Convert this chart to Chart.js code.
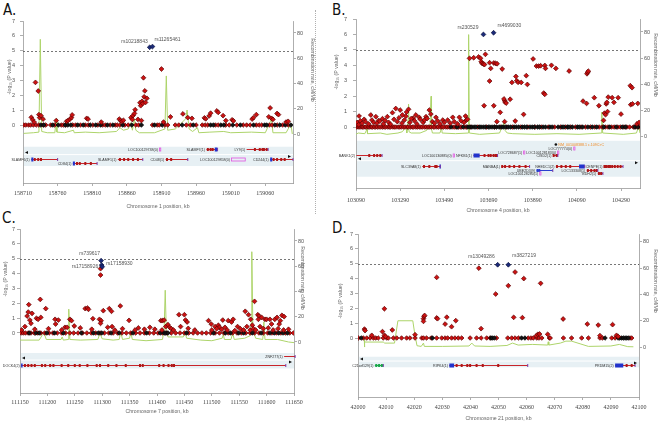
<!DOCTYPE html>
<html>
<head>
<meta charset="utf-8">
<script src="https://cdn.jsdelivr.net/npm/chart.js@4.4.1/dist/chart.umd.min.js"></script>
<style>
  body { margin: 0; background: #fff; }
  #page { position: relative; width: 661px; height: 425px; overflow: hidden; }
  canvas { position: absolute; }
  .tag { position: absolute; font: 15px "DejaVu Sans Condensed", sans-serif; color: #111; line-height: 1; }
  #sep { position: absolute; left: 315px; top: 10px; height: 204px; border-left: 1px dotted #b0b0b0; }
</style>
</head>
<body>
<div id="page">
  <div class="tag" style="left:3px;top:3px">A.</div>
  <div class="tag" style="left:332px;top:3px">B.</div>
  <div class="tag" style="left:2px;top:211px">C.</div>
  <div class="tag" style="left:332px;top:221px">D.</div>
  <div id="sep"></div>
  <canvas id="cA" width="315" height="212" style="left:0;top:0"></canvas>
  <canvas id="cB" width="331" height="216" style="left:330px;top:0"></canvas>
  <canvas id="cC" width="330" height="213" style="left:0;top:212px"></canvas>
  <canvas id="cD" width="331" height="213" style="left:330px;top:212px"></canvas>
</div>
<script>
// ---------- panel A : chromosome 1 ----------
const ticksA = [158710, 158760, 158810, 158860, 158910, 158960, 159010, 159060];
const topA = [["rs10218843", 158893, 5.23], ["rs11265461", 158897, 5.28]];
const redA = [
  [158722,0.52],[158724,0.35],[158726,0.2],[158728,2.87],[158732,2.29],[158733,0.7],[158734,0.5],[158736,0.63],[158739,0.4],
  [158758,0.3],[158773,0.25],[158775,0.3],[158778,0.4],[158780,0.5],[158781,0.68],[158802,0.45],[158804,0.4],[158823,0.2],
  [158849,0.4],[158851,0.3],[158853,0.25],[158855,0.32],[158866,0.5],[158868,0.37],[158869,0.64],[158871,0.78],[158872,1.03],
  [158876,0.38],[158879,1.5],[158880,1.3],[158881,0.3],[158882,1.6],[158883,1.45],[158884,3.18],[158885,1.9],[158886,2.3],
  [158887,1.52],[158889,1.8],[158910,3.77],[158913,0.2],[158923,0.55],[158941,0.75],[158948,0.5],[158954,0.45],[158972,0.48],
  [158974,0.42],[158979,0.62],[158981,0.8],[158990,0.95],[158992,0.85],[158999,0.63],[159003,0.3],[159012,0.35],[159014,0.28],
  [159041,0.4],[159043,0.5],[159047,0.7],[159065,0.55],[159067,1.15],[159069,0.45],[159071,0.38],[159077,0.78],[159079,0.7],
  [159090,0.2],[159093,0.25]
];
const zeroRedA = [158711,158714,158718,158721,158725,158729,158733,158739,158743,158750,158756,158765,158768,158772,158782,
  158786,158793,158800,158804,158811,158818,158825,158829,158836,158843,158846,158850,158857,158862,158873,158877,158897,
  158904,158907,158915,158919,158930,158935,158946,158952,158960,158969,158973,158977,158988,158992,159003,159008,159019,
  159028,159033,159038,159047,159051,159055,159066,159070,159077,159085,159093];
const zeroBlackA = [158736,158740,158753,158761,158771,158775,158779,158789,158797,158807,158815,158822,158832,158840,158854,
  158867,158881,158900,158911,158940,158956,158981,158985,158996,159000,159013,159024,159043,159059,159062,159074,159081,
  159089,159097];
const recombA = [[158711,0.5],[158725,1],[158733,1.5],[158735,75],[158737,2],[158745,1],[158756,1],[158758,12],[158759,1.5],
  [158770,1],[158783,3],[158784,1],[158800,1.5],[158820,1],[158845,2],[158850,5],[158855,3],[158862,4],[158866,9],[158868,3],
  [158871,12],[158873,3],[158878,1],[158900,1],[158915,4],[158917,46],[158919,3],[158930,4],[158945,12],[158947,19],[158950,4],
  [158955,2],[158962,5],[158964,1],[158980,1.5],[159000,2],[159010,1],[159040,1.5],[159060,1],[159069,12],[159071,1],
  [159090,1],[159097,8],[159099,0]];
const genesA = [
  {name:"LOC100129738(0)", start:158907, end:158909, lane:0, kind:"nc"},
  {name:"SLAMF7(1)", start:158975, end:158991, lane:0, exons:[158977,158981,158984], utr:[158987,158991]},
  {name:"LY9(1)", start:159033, end:159064, lane:0, exons:[159045,159052,159056,159058,159062]},
  {name:"SLAMF6(1)", start:158722, end:158760, lane:1, exons:[158727,158732,158736], utr:[158722,158725]},
  {name:"SLAMF1(1)", start:158847, end:158883, lane:1, exons:[158850,158856,158862,158869,158876]},
  {name:"CD48(1)", start:158916, end:158948, lane:1, exons:[158918,158924]},
  {name:"LOC100129858(0)", start:159011, end:159031, lane:1, kind:"nc"},
  {name:"CD244(1)", start:159067, end:159100, lane:1, exons:[159072,159077,159083,159088], utr:[159067,159070]},
  {name:"CD84(1)", start:158782, end:158817, lane:2, exons:[158788,158792,158800,158808], utr:[158782,158785]}
];

// ---------- panel B : chromosome 4 ----------
const ticksB = [103090, 103290, 103490, 103690, 103890, 104090, 104290];
const topB = [["rs230529", 103667, 6.0], ["rs4699030", 103713, 6.11]];
const redB = [
  [103604,4.45],[103623,4.49],[103645,4.54],[103654,4.45],[103657,4.23],[103661,4.12],[103667,4.08],[103672,4.05],[103676,4.71],
  [103695,4.17],[103700,3.8],[103695,2.98],[103714,4.15],[103722,4.12],[103729,4.1],[103752,3.76],[103670,1.38],[103714,1.38],
  [103743,0.95],[103728,0.35],[103763,0.35],[103763,1.7],[103760,1.82],[103766,1.6],[103770,1.55],[103788,1.8],[103814,3.28],
  [103818,3.0],[103824,2.9],[103796,2.89],[103838,2.89],[103861,3.33],[103866,2.76],[103811,0.39],[103849,0.82],[103892,4.41],
  [103907,3.95],[103917,3.95],[103926,3.97],[103945,3.99],[103948,3.8],[103940,2.2],[103945,2.12],[103975,4.0],[103995,3.8],
  [104055,3.63],[104136,3.45],[104139,3.55],[104142,3.62],[104118,1.68],[104134,1.53],[104169,1.9],[104190,1.38],[104211,0.43],
  [104223,1.5],[104226,1.6],[104215,0.9],[104220,0.8],[104229,1.0],[104232,1.94],[104250,1.9],[104258,1.6],[104277,1.9],
  [104290,0.84],[104332,2.68],[104340,2.55],[104334,1.45],[104342,1.5],[104366,1.53],
  [103104,0.71],[103127,0.5],[103157,0.78],[103180,0.67],[103192,0.42],[103210,0.54],[103232,0.67],[103255,0.93],[103270,1.2],
  [103290,1.1],[103300,0.78],[103319,0.97],[103328,1.15],[103349,0.57],[103361,0.78],[103376,0.63],[103407,0.67],[103422,1.1],
  [103429,0.84],[103452,0.63],[103483,0.45],[103528,0.63],[103558,0.63],[103586,0.71],[103589,0.45],
  [103096,0.3],[103102,0.15],[103110,0.4],[103118,0.25],[103133,0.35],[103147,0.2],[103162,0.45],[103170,0.3],[103185,0.25],
  [103198,0.38],[103214,0.2],[103222,0.42],[103238,0.3],[103246,0.18],[103262,0.5],[103277,0.35],[103285,0.6],[103298,0.25],
  [103309,0.45],[103316,0.7],[103334,0.3],[103340,0.55],[103355,0.4],[103366,0.2],[103381,0.5],[103394,0.3],[103400,0.45],
  [103412,0.55],[103436,0.35],[103445,0.25],[103460,0.4],[103471,0.2],[103490,0.3],[103505,0.45],[103517,0.25],[103535,0.35],
  [103550,0.2],[103566,0.4],[103579,0.3],[103595,0.5],[104362,0.2],[104372,0.3]
];
const zeroRedB = [103093,103100,103107,103112,103119,103125,103132,103138,103146,103152,103159,103165,103173,103180,103186,
  103195,103202,103211,103218,103225,103234,103241,103248,103257,103264,103271,103281,103288,103295,103305,103312,103321,
  103327,103337,103344,103351,103361,103368,103377,103384,103391,103401,103408,103417,103424,103431,103441,103447,103457,
  103463,103473,103480,103487,103497,103504,103513,103529,103537,103544,103553,103561,103568,103583,103591,103610,103641,
  103681,103719,103744,103773,103799,103836,103869,103901,103929,103961,103989,104016,104039,104063,104084,104109,104129,
  104151,104171,104191,104204,104219,104231,104247,104259,104275,104287,104303,104317,104329,104345,104357,104371];
const zeroBlackB = [103520,103548,103575,103596,103605,103615,103625,103633,103648,103656,103665,103675,103688,103697,103706,
  103716,103727,103738,103750,103758,103768,103780,103790,103806,103815,103826,103843,103852,103862,103878,103888,103897,
  103912,103921,103937,103948,103968,103978,104005,104023,104031,104048,104055,104070,104093,104101,104116,104140,104160,
  104180,104212,104238,104268,104296,104310,104352,104366];
const recombB = [[103090,2],[103100,3],[103130,2.5],[103140,6],[103142,2.5],[103200,3],[103230,2],[103280,3],[103300,4],
  [103318,8],[103320,3],[103326,14],[103328,25],[103330,4],[103340,3],[103380,3],[103410,5],[103425,8],[103430,31],[103432,6],
  [103436,3],[103470,3],[103478,7],[103480,3],[103540,2.5],[103598,3],[103600,78],[103603,3],[103650,2],[103740,3],[103755,9],
  [103760,11],[103765,5],[103775,3],[103800,2.5],[103900,2],[104000,2.5],[104100,2],[104200,3],[104203,19],[104207,3],
  [104300,2],[104360,3],[104370,8],[104376,3]];
const genesB = [
  {name:"NM_001008388.1 c.109C>C", start:103995, end:103995, lane:0, kind:"snp"},
  {name:"LOC777774(0)", start:104076, end:104078, lane:1, kind:"nc"},
  {name:"LOC728687(1)", start:103849, end:103851, lane:2, kind:"nc"},
  {name:"LOC100128183(0)", start:104003, end:104005, lane:2, kind:"nc"},
  {name:"CISD2(1)", start:103982, end:104004, lane:3, exons:[103985,103999]},
  {name:"BANK1(2)", start:103092, end:103208, lane:3, exons:[103150,103172,103186,103200]},
  {name:"LOC100130885(0)", start:103530, end:103532, lane:3, kind:"nc"},
  {name:"NFKB1(1)", start:103622, end:103731, lane:3, exons:[103672,103690,103700,103713,103722,103728], utr:[103622,103650]},
  {name:"SLC39A8(1)", start:103390, end:103472, lane:4, exons:[103398,103422,103449,103455], utr:[103468,103472]},
  {name:"MANBA(1)", start:103749, end:103876, lane:4, exons:[103752,103765,103785,103806,103830,103858]},
  {name:"NHEDC1(2)", start:103995, end:104126, lane:4, exons:[104000,104020,104040,104060], utr:[104100,104126]},
  {name:"CENPE(1)", start:104213, end:104299, lane:4, exons:[104215,104222,104232,104240,104250,104262,104275,104288]},
  {name:"UBE2D3(9)", start:103908, end:103981, lane:5, exons:[103912,103920], color:"#2a3fd0"},
  {name:"LOC133308(1)", start:104135, end:104185, lane:5, exons:[104140,104155,104170,104180]},
  {name:"LOC100128280(1)", start:103922, end:103924, lane:6, kind:"nc"},
  {name:"BDH2(1)", start:104185, end:104208, lane:6, exons:[104190,104200]}
];

// ---------- panel C : chromosome 7 ----------
const ticksC = [111150, 111200, 111250, 111300, 111350, 111400, 111450, 111500, 111550, 111600, 111650];
const topC = [["rs739617", 111298, 4.87], ["rs17158930", 111299, 4.57], ["rs17158926", 111300, 4.46]];
const redC = [
  [111297,4.33],[111297,3.9],[111166,1.91],[111163,1.14],[111165,1.41],[111172,1.32],[111168,0.87],[111170,0.65],[111159,0.43],
  [111180,0.99],[111183,0.92],[111188,1.05],[111187,2.26],[111197,1.64],[111214,0.92],[111220,0.87],[111215,0.6],[111232,0.38],
  [111236,0.38],[111241,0.92],[111244,0.83],[111249,0.47],[111260,0.34],[111269,1.64],[111273,1.68],[111275,1.59],[111283,0.96],
  [111295,0.92],[111298,0.83],[111297,0.65],[111302,1.5],[111313,1.64],[111317,1.46],[111310,0.38],[111318,0.43],[111333,1.82],
  [111337,0.29],[111349,0.85],[111366,0.34],[111377,0.25],[111387,0.38],[111407,0.83],[111410,0.83],[111413,0.87],[111416,0.43],
  [111420,0.56],[111423,0.38],[111426,0.29],[111440,1.23],[111450,1.23],[111452,0.87],[111455,0.74],[111443,0.43],[111457,0.31],
  [111494,0.83],[111499,0.6],[111506,0.43],[111512,0.52],[111520,0.87],[111530,0.83],[111536,0.74],[111539,0.92],[111514,0.38],
  [111524,0.38],[111547,0.43],[111561,1.46],[111567,1.23],[111571,0.92],[111578,2.13],[111584,1.23],[111586,1.14],[111585,0.92],
  [111591,1.05],[111597,0.92],[111600,0.92],[111606,0.92],[111609,0.6],[111615,0.92],[111619,1.05],[111625,0.83],[111628,1.19],
  [111632,1.1],[111623,0.6],[111574,0.52],
  [111500,0.2],[111509,0.29],[111518,0.25],[111528,0.2],[111542,0.16],[111552,0.29],[111558,0.2],[111564,0.43],[111570,0.2],
  [111576,0.29],[111580,0.2],[111588,0.43],[111594,0.29],[111603,0.34],[111612,0.2],[111621,0.29],[111631,0.2],[111640,0.25],
  [111153,0.2],[111177,0.25],[111202,0.29],[111226,0.2],[111281,0.25],[111323,0.2],[111360,0.2],[111396,0.25],[111409,0.2],
  [111430,0.2],[111469,0.2]
];
const zeroRedC = [111152,111156,111160,111165,111170,111176,111182,111188,111195,111203,111210,111218,111226,111233,111241,
  111248,111256,111264,111272,111280,111288,111296,111304,111312,111320,111328,111336,111344,111352,111361,111369,111377,
  111386,111394,111402,111410,111418,111426,111434,111442,111450,111458,111466,111474,111482,111490,111498,111506,111514,
  111522,111530,111538,111546,111554,111562,111570,111578,111586,111594,111602,111610,111618,111626,111634,111642,111649];
const zeroBlackC = [111167,111179,111185,111199,111213,111229,111262,111284,111293,111299,111316,111331,111356,111381,111406,
  111413,111416,111420,111454,111503,111525,111534,111549,111558,111574,111590,111606,111614,111622,111630,111638];
const recombC = [[111150,1.5],[111185,1.5],[111190,5],[111194,7],[111198,2],[111225,2],[111227,4],[111229,1.5],[111238,2],
  [111239,26],[111241,2],[111260,1.5],[111292,2],[111296,7],[111300,2.5],[111320,1.5],[111331,2],[111334,8],[111337,2],
  [111350,3],[111352,8],[111355,2],[111380,1],[111410,2],[111413,10],[111415,41],[111417,8],[111420,4],[111448,4],[111451,8],
  [111454,3],[111480,1.5],[111500,1],[111519,3],[111521,6],[111523,2],[111535,2],[111538,7],[111541,2],[111560,3],[111570,5],
  [111572,15],[111573,71.5],[111575,10],[111580,3],[111593,2],[111595,16],[111597,2],[111620,2],[111640,0],[111650,-0.5]];
const genesC = [
  {name:"ZNF277(1)", start:111632, end:111652, lane:0, exons:[]},
  {name:"DOCK4(2)", start:111152, end:111635, lane:1, utr:[111152,111154], exons:[111159,111165,111171,111177,111190,111196,
    111205,111211,111226,111238,111250,111259,111273,111290,111296,111311,111326,111343,111369,111374,111404,111412,111421,
    111427,111431]}
];

// ---------- panel D : chromosome 21 ----------
const ticksD = [42000, 42010, 42020, 42030, 42040, 42050, 42060, 42070, 42080, 42090, 42100];
const topD = [["rs13049286", 42049.7, 4.93], ["rs3827219", 42053.5, 4.93]];
const redD = [
  [42002.3,0.6],[42002.5,0.5],[42004.9,0.18],[42008.7,0.43],[42009.4,1.97],[42009.4,0.18],[42009.8,0.1],[42012.2,0.54],
  [42020.3,0.22],[42023.3,1.3],[42023.5,1.45],[42023.7,1.52],[42023.3,1.12],[42028,4.08],[42028,1.35],[42028.3,1.3],[42031,0.94],
  [42031.6,1.4],[42033.3,0.76],[42034.8,1.17],[42043,4.7],[42043.8,0.63],[42049,2.96],[42053.5,3.52],[42055.9,4.44],[42059,4.0],
  [42055.4,1.39],[42058.5,1.37],[42065,3.68],[42063.4,0.14],[42064,0.25],[42064.6,0.27],[42067.5,0.25],[42073,1.28],
  [42081.6,0.94],[42085.5,0.87],[42090.6,0.9],[42086.1,0.16],[42092,0.18],[42092.6,0.1]
];
const zeroRedD = [42000.1,42001.9,42003.1,42004.3,42005.5,42006.3,42007.2,42009,42010.2,42010.8,42012.6,42013.8,42015.5,
  42017.3,42018.5,42020.3,42022.7,42023.3,42024.4,42026,42028,42029.8,42031,42031.9,42033.3,42034.5,42035.7,42036.9,42039.9,
  42042.2,42043.8,42045.8,42047,42049.3,42053.3,42054.7,42055.9,42057.1,42060.6,42061.6,42062.4,42063.6,42064.4,42065.4,
  42068.1,42068.4,42073.1,42076,42079.6,42082,42086.1,42087,42090.3,42091.5,42096.8,42097.4];
const zeroBlackD = [42001.1,42026.5,42047.3,42047.8,42048.5,42058.2,42059.4,42087.9,42092.6,42093.2,42093.8,42094.4,42095,
  42095.6,42096.2];
const recombD = [[42002.2,7],[42002.3,0],[42002.4,3.8],[42009,3.8],[42009.5,3],[42013,3],[42014.2,20],[42019.5,20],[42020.2,10],
  [42021,1],[42022.5,0.5],[42023.3,3],[42023.6,0.5],[42030,0.5],[42039.5,0.8],[42040.5,3],[42041.5,0.8],[42047,0.5],
  [42053,1.2],[42055,3],[42057,1.5],[42062,2],[42067.5,1.5],[42067.7,4],[42067.9,1.5],[42072,3],[42074,4.5],[42076,4.5],
  [42082,0.5],[42090,0.8],[42093,2],[42096,0.3],[42098,0.2]];
const genesD = [
  {name:"C21orf129(1)", start:42006, end:42009, lane:0, exons:[42006.5,42007.5,42008.5], color:"#1aa84a"},
  {name:"RIPK4(1)", start:42032.5, end:42060.4, lane:0, utr:[42032.5,42034.2],
    exons:[42035.1,42036.9,42038.9,42039.9,42042.2,42044.4,42049.9]},
  {name:"PRDM15(2)", start:42091.5, end:42098.6, lane:0, utr:[42091.5,42094.4], exons:[42095.6,42097.4]}
];

// ---------- drawing ----------
const SANS = "Liberation Sans";
const xy = a => a.map(([x, y]) => ({x, y}));
const zero = a => a.map(x => ({x, y: 0}));

function locus(p) {
  return {
    id: "locus",
    beforeDatasetsDraw(chart) {
      const {ctx, chartArea: a, scales: {x, y}} = chart;
      ctx.save();
      const [bt, bs, bb] = p.band.map(v => y.getPixelForValue(v));
      ctx.fillStyle = "#e7f0f4";
      ctx.fillRect(a.left + 1, bt, a.right - a.left - 1, bb - bt);
      ctx.fillStyle = "#fff";
      ctx.fillRect(a.left + 1, bs - 0.5, a.right - a.left - 1, 1);
      ctx.fillStyle = "#111";
      ctx.beginPath();
      ctx.moveTo(a.left + 2, bs - 2); ctx.lineTo(a.left + 5, bs - 3.5); ctx.lineTo(a.left + 5, bs - 0.5); ctx.fill();
      ctx.beginPath();
      ctx.moveTo(a.right - 2, bs + 2); ctx.lineTo(a.right - 5, bs + 0.5); ctx.lineTo(a.right - 5, bs + 3.5); ctx.fill();
      // genome-wide line
      const ys = Math.round(y.getPixelForValue(5)) + 0.5;
      ctx.strokeStyle = "#555"; ctx.lineWidth = 0.8; ctx.setLineDash([2, 2]);
      ctx.beginPath(); ctx.moveTo(a.left, ys); ctx.lineTo(a.right, ys); ctx.stroke();
      ctx.setLineDash([]);
      // genes
      ctx.font = `3.6px ${SANS}`;
      ctx.textBaseline = "middle";
      p.genes.forEach(g => {
        const gy = Math.round(y.getPixelForValue(p.lanes[g.lane])) + 0.5;
        const x1 = x.getPixelForValue(g.start), x2 = x.getPixelForValue(g.end);
        if (g.kind === "snp") {
          ctx.fillStyle = "#111";
          ctx.beginPath(); ctx.arc(x1, gy, 1.3, 0, Math.PI * 2); ctx.fill();
          ctx.fillStyle = "#f08a24"; ctx.textAlign = "left";
          ctx.fillText(g.name, x1 + 2.5, gy);
          return;
        }
        if (g.kind === "nc") {
          ctx.strokeStyle = "#e050e0"; ctx.lineWidth = 0.8;
          ctx.strokeRect(x1, gy - 1.5, Math.max(1.2, x2 - x1), 3);
        } else {
          const col = g.color || "#c8252b";
          ctx.strokeStyle = col; ctx.lineWidth = 1;
          ctx.beginPath(); ctx.moveTo(x1, gy); ctx.lineTo(x2, gy); ctx.stroke();
          ctx.fillStyle = g.color || "#b01818";
          (g.exons || []).forEach(e => ctx.fillRect(x.getPixelForValue(e) - 1, gy - 1.5, 2, 3));
          if (g.utr) {
            const u1 = x.getPixelForValue(g.utr[0]), u2 = x.getPixelForValue(g.utr[1]);
            ctx.fillStyle = "#2233cc";
            ctx.fillRect(u1, gy - 2, Math.max(1.5, u2 - u1), 4);
          }
          ctx.fillStyle = "#7a3aa8";
          ctx.fillRect(x2 - 0.5, gy - 1.5, 1, 3);
        }
        ctx.fillStyle = "#333"; ctx.textAlign = "right";
        ctx.fillText(g.name, x1 - 1.5, gy);
      });
      ctx.restore();
    },
    afterDraw(chart) {
      const {ctx, chartArea: a, scales: {x, y}} = chart;
      ctx.save();
      ctx.fillStyle = "#666";
      ctx.font = `5.2px ${SANS}`;
      ctx.textAlign = "center"; ctx.textBaseline = "middle";
      ctx.fillText(p.xTitle, (a.left + a.right) / 2, p.xTitleY);
      ctx.save();
      ctx.translate(p.yTitle[0], p.yTitle[1]); ctx.rotate(-Math.PI / 2);
      ctx.fillText("-log\u2081\u2080 (P value)", 0, 0);
      ctx.restore();
      ctx.save();
      ctx.translate(p.y2Title[0], p.y2Title[1]); ctx.rotate(Math.PI / 2);
      ctx.fillText("Recombination rate, cM/Mb", 0, 0);
      ctx.restore();
      ctx.font = `5px ${SANS}`; ctx.fillStyle = "#555";
      p.top.forEach(([id, pos, lp], i) => {
        const [dx, dy] = p.snpOffsets[i];
        ctx.textAlign = dx < 0 ? "right" : "left";
        ctx.fillText(id, x.getPixelForValue(pos) + dx, y.getPixelForValue(lp) + dy);
      });
      ctx.restore();
    }
  };
}

function axis(extra) {
  return Object.assign({
    type: "linear",
    grid: {drawOnChartArea: false, tickLength: 3, color: "#999", lineWidth: 0.8},
    border: {color: "#999", width: 0.8}
  }, extra);
}

function drawPanel(id, p) {
  const mark = (fill, line, r) => ({pointStyle: "rectRot", pointRadius: r, pointBackgroundColor: fill,
    pointBorderColor: line, pointBorderWidth: 0.7, pointHoverRadius: r});
  new Chart(document.getElementById(id), {
    type: "scatter",
    data: {
      datasets: [
        Object.assign({data: p.top.map(([, x, y]) => ({x, y})), order: 1}, mark("#1b2a78", "#0b1240", 2.4)),
        Object.assign({data: xy(p.red), order: 2}, mark("#cc1212", "#5a0000", 2.4)),
        Object.assign({data: zero(p.zeroBlack), order: 3}, mark("#141414", "#000", 2.3)),
        Object.assign({data: zero(p.zeroRed), order: 4}, mark("#cc1212", "#5a0000", 2.3)),
        {type: "line", data: xy(p.recomb), yAxisID: "y2", borderColor: "#add46a", borderWidth: 1,
         pointRadius: 0, tension: 0, fill: false, order: 5}
      ]
    },
    options: {
      responsive: false,
      animation: false,
      events: [],
      layout: {padding: {top: p.box.t, left: 0, right: 0, bottom: 0}},
      plugins: {legend: {display: false}, tooltip: {enabled: false}},
      scales: {
        x: axis({
          position: "bottom", min: p.xRange[0], max: p.xRange[1],
          afterBuildTicks: s => { s.ticks = p.xTicks.map(v => ({value: v})); },
          afterFit: s => { s.height = p.box.hx; },
          ticks: {callback: v => String(v), font: {family: "Liberation Serif", size: 6}, color: "#444",
                  padding: p.box.xPad, maxRotation: 0, autoSkip: false}
        }),
        y: axis({
          position: "left", min: p.yRange[0], max: 7,
          afterBuildTicks: s => { s.ticks = [0, 1, 2, 3, 4, 5, 6, 7].map(v => ({value: v})); },
          afterFit: s => { s.width = p.box.l; },
          ticks: {callback: v => String(v), font: {family: SANS, size: 5.5}, color: "#555", padding: p.box.yPad}
        }),
        y2: axis({
          position: "right", min: p.y2Range[0], max: p.y2Range[1],
          afterBuildTicks: s => { s.ticks = [0, 20, 40, 60, 80].map(v => ({value: v})); },
          afterFit: s => { s.width = p.box.r; },
          ticks: {callback: v => String(v), font: {family: SANS, size: 5.5}, color: "#555", padding: 1}
        })
      }
    },
    plugins: [locus(p)]
  });
}

drawPanel("cA", {
  top: topA, red: redA, zeroRed: zeroRedA, zeroBlack: zeroBlackA, recomb: recombA, genes: genesA, xTicks: ticksA,
  xRange: [158710, 159100], yRange: [-3.9], y2Range: [-38.8, 89.5],
  box: {t: 21, l: 23, r: 22, hx: 29, xPad: 4, yPad: 5},
  band: [-1.46, -1.99, -2.76], lanes: [-1.64, -2.27, -2.54],
  xTitle: "Chromosome 1 position, kb", xTitleY: 207, yTitle: [10, 77], y2Title: [312, 70],
  snpOffsets: [[-2, -6], [2, -6.5]]
});
drawPanel("cB", {
  top: topB, red: redB, zeroRed: zeroRedB, zeroBlack: zeroBlackB, recomb: recombB, genes: genesB, xTicks: ticksB,
  xRange: [103090, 104376], yRange: [-3.95], y2Range: [-38.9, 89.9],
  box: {t: 19, l: 26, r: 21, hx: 28, xPad: 6, yPad: 6},
  band: [-0.89, -2.18, -3.22], lanes: [-1.10, -1.36, -1.60, -1.80, -2.53, -2.79, -3.0],
  xTitle: "Chromosome 4 position, kb", xTitleY: 211, yTitle: [7, 72], y2Title: [325, 65],
  snpOffsets: [[-5, -6.4], [4, -6.7]]
});
drawPanel("cC", {
  top: topC, red: redC, zeroRed: zeroRedC, zeroBlack: zeroBlackC, recomb: recombC, genes: genesC, xTicks: ticksC,
  xRange: [111150, 111650], yRange: [-4.04], y2Range: [-40.4, 89.5],
  box: {t: 17, l: 20, r: 36, hx: 32, xPad: 3, yPad: 2},
  band: [-1.35, -1.82, -2.39], lanes: [-1.55, -2.15],
  xTitle: "Chromosome 7 position, kb", xTitleY: 200, yTitle: [6, 67], y2Title: [302, 66],
  snpOffsets: [[-1, -6.6], [4.5, -1], [-4, 0]]
});
drawPanel("cD", {
  top: topD, red: redD, zeroRed: zeroRedD, zeroBlack: zeroBlackD, recomb: recombD, genes: genesD, xTicks: ticksD,
  xRange: [42000, 42100], yRange: [-3.97], y2Range: [-38, 86],
  box: {t: 22, l: 28, r: 22, hx: 28, xPad: 4, yPad: 2},
  band: [-1.26, -1.55, -1.97], lanes: [-1.82],
  xTitle: "Chromosome 21 position, kb", xTitleY: 207, yTitle: [11, 89], y2Title: [325, 69],
  snpOffsets: [[-3, -8], [4, -9]]
});
</script>
</body>
</html>
